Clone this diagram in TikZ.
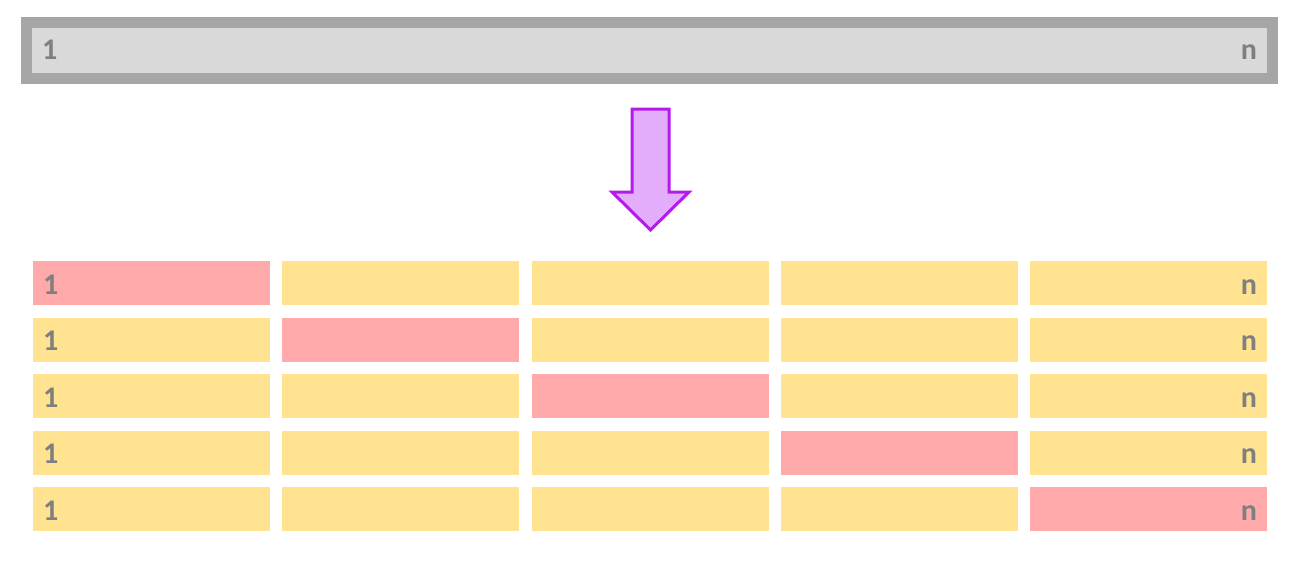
\documentclass[tikz,border=0pt]{standalone}
\usepackage{fontspec}
\setmainfont{Carlito}
\usetikzlibrary{positioning}
\definecolor{barline}{HTML}{A6A6A6}
\definecolor{barfill}{HTML}{D9D9D9}
\definecolor{labelgray}{HTML}{7F7F7F}
\definecolor{foldred}{HTML}{FFA9AB}
\definecolor{foldyellow}{HTML}{FFE391}
\definecolor{arrowline}{HTML}{B31AEB}
\definecolor{arrowfill}{HTML}{E3ADFB}
\newcommand{\colstep}{249.25}
\newcommand{\rowstep}{56.5}

\begin{document}
\begin{tikzpicture}[x = 0.5pt, y = -0.5pt, every node/.style = {inner sep = 0, outer sep = 0},
    lbl/.style = {font = \bfseries\fontsize{15}{18}\selectfont, text = labelgray},
    cell/.style = {rectangle, anchor = north west, minimum width = 118.5pt, minimum height = 22pt}]
	\useasboundingbox (0, 0) rectangle (1298, 562);

	% full data set
	\node (bar) at (649.5, 50.5) [rectangle, draw = barline, fill = barfill, line width = 5.5pt, minimum width = 623pt, minimum height = 28pt] {};
	\node (bar-1) at (42, 60) [lbl, anchor = base west] {1};
	\node (bar-n) at (1257, 60) [lbl, anchor = base east] {n};

	% arrow
	\draw [draw = arrowline, fill = arrowfill, line width = 1.5pt, line join = miter]
		(632, 109) -- (669, 109) -- (669, 192) -- (689, 192) -- (650.5, 230) -- (612, 192) -- (632, 192) -- cycle;

	% folds
	\foreach \r in {1, ..., 5}
		\foreach \c in {1, ..., 5} {
			\ifnum\r=\c \def\cellcol{foldred}\else \def\cellcol{foldyellow}\fi
			\node (c-\r-\c) at ({33 + (\c - 1) * \colstep}, {261 + (\r - 1) * \rowstep}) [cell, fill = \cellcol] {};
		}
	\foreach \r in {1, ..., 5} {
		\node (one-\r) at ({43}, {294 + (\r - 1) * \rowstep}) [lbl, anchor = base west] {1};
		\node (n-\r) at ({1257}, {294 + (\r - 1) * \rowstep}) [lbl, anchor = base east] {n};
	}
\end{tikzpicture}
\end{document}
